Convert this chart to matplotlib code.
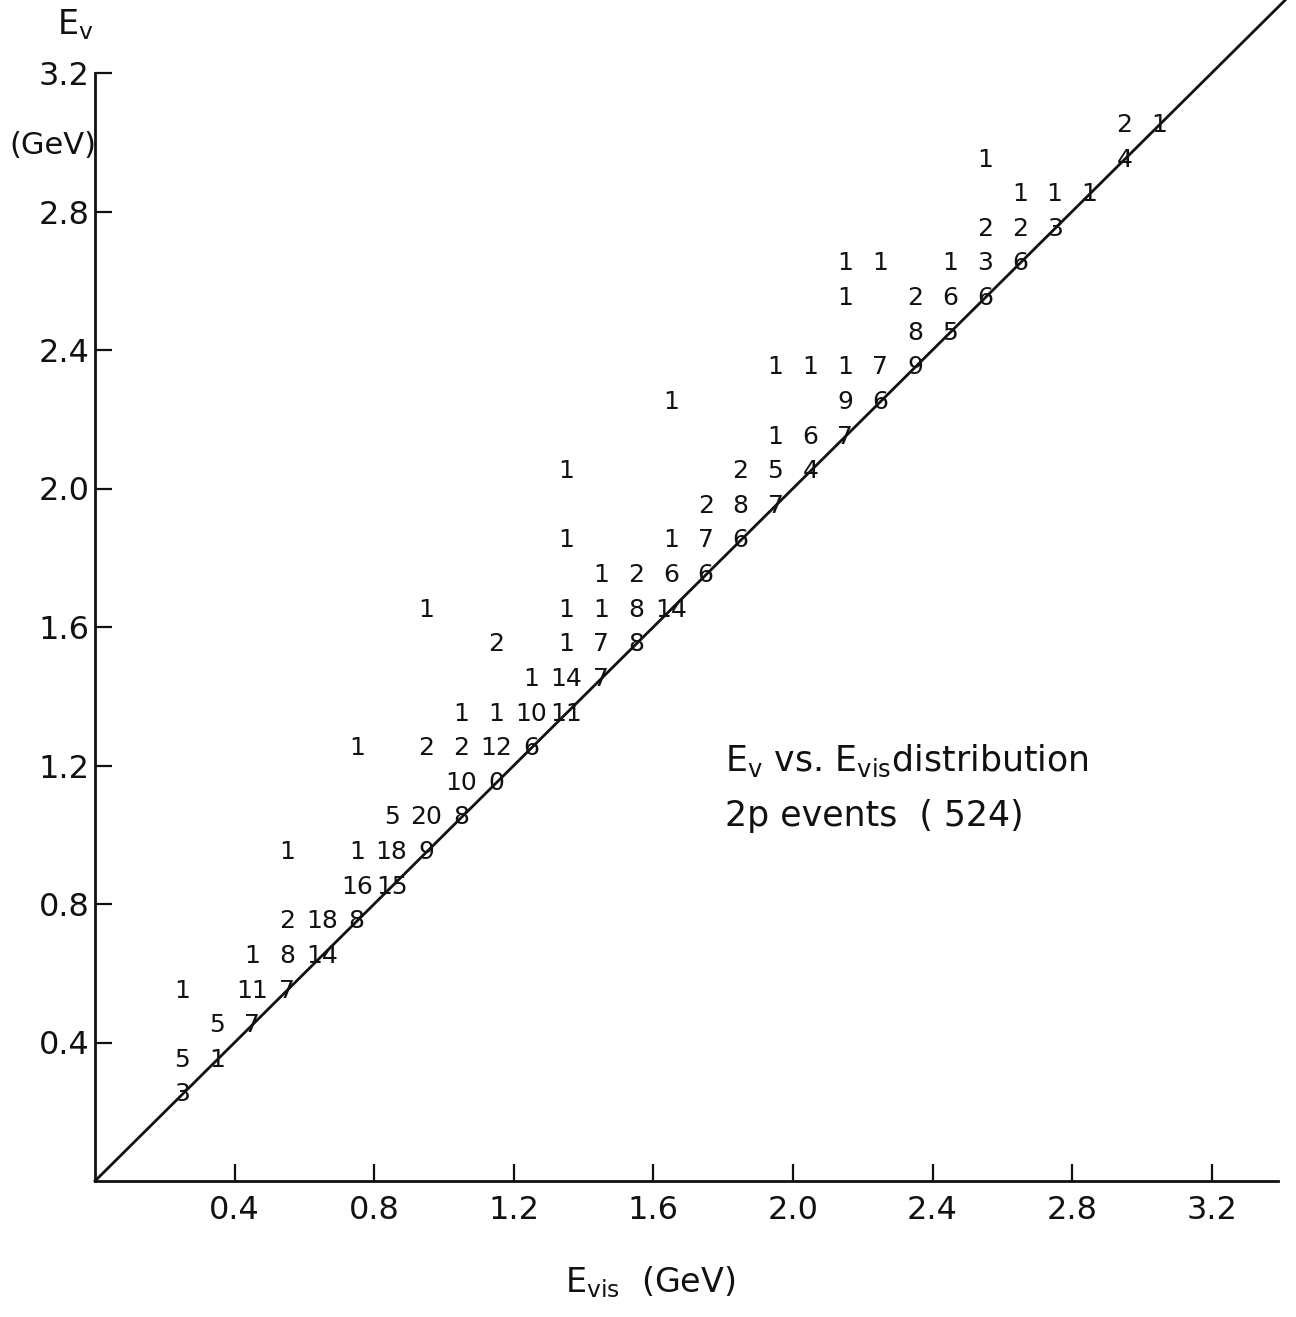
import matplotlib
matplotlib.use("Agg")
import matplotlib.pyplot as plt

# ---- data: bin centres (GeV) and event counts in each cell ----
evis = [0.25, 0.25, 0.25,
        0.35, 0.35,
        0.45, 0.45, 0.45,
        0.55, 0.55, 0.55, 0.55,
        0.65, 0.65,
        0.75, 0.75, 0.75, 0.75,
        0.85, 0.85, 0.85,
        0.95, 0.95, 0.95, 0.95,
        1.05, 1.05, 1.05, 1.05,
        1.15, 1.15, 1.15, 1.15,
        1.25, 1.25, 1.25,
        1.35, 1.35, 1.35, 1.35, 1.35, 1.35,
        1.45, 1.45, 1.45, 1.45,
        1.55, 1.55, 1.55,
        1.65, 1.65, 1.65, 1.65,
        1.75, 1.75, 1.75,
        1.85, 1.85, 1.85,
        1.95, 1.95, 1.95, 1.95,
        2.05, 2.05, 2.05,
        2.15, 2.15, 2.15, 2.15, 2.15,
        2.25, 2.25, 2.25,
        2.35, 2.35, 2.35,
        2.45, 2.45, 2.45,
        2.55, 2.55, 2.55, 2.55,
        2.65, 2.65, 2.65,
        2.75, 2.75,
        2.85,
        2.95, 2.95,
        3.05]
enu = [0.25, 0.35, 0.55,
       0.35, 0.45,
       0.45, 0.55, 0.65,
       0.55, 0.65, 0.75, 0.95,
       0.65, 0.75,
       0.75, 0.85, 0.95, 1.25,
       0.85, 0.95, 1.05,
       0.95, 1.05, 1.25, 1.65,
       1.05, 1.15, 1.25, 1.35,
       1.15, 1.25, 1.35, 1.55,
       1.25, 1.35, 1.45,
       1.35, 1.45, 1.55, 1.65, 1.85, 2.05,
       1.45, 1.55, 1.65, 1.75,
       1.55, 1.65, 1.75,
       1.65, 1.75, 1.85, 2.25,
       1.75, 1.85, 1.95,
       1.85, 1.95, 2.05,
       1.95, 2.05, 2.15, 2.35,
       2.05, 2.15, 2.35,
       2.15, 2.25, 2.35, 2.55, 2.65,
       2.25, 2.35, 2.65,
       2.35, 2.45, 2.55,
       2.45, 2.55, 2.65,
       2.55, 2.65, 2.75, 2.95,
       2.65, 2.75, 2.85,
       2.75, 2.85,
       2.85,
       2.95, 3.05,
       3.05]
counts = [3, 5, 1,
          1, 5,
          7, 11, 1,
          7, 8, 2, 1,
          14, 18,
          8, 16, 1, 1,
          15, 18, 5,
          9, 20, 2, 1,
          8, 10, 2, 1,
          0, 12, 1, 2,
          6, 10, 1,
          11, 14, 1, 1, 1, 1,
          7, 7, 1, 1,
          8, 8, 2,
          14, 6, 1, 1,
          6, 7, 2,
          6, 8, 2,
          7, 5, 1, 1,
          4, 6, 1,
          7, 9, 1, 1, 1,
          6, 7, 1,
          9, 8, 2,
          5, 6, 1,
          6, 3, 2, 1,
          6, 2, 1,
          3, 1,
          1,
          4, 2,
          1]

xticks = [0.4, 0.8, 1.2, 1.6, 2.0, 2.4, 2.8, 3.2]
yticks = [0.4, 0.8, 1.2, 1.6, 2.0, 2.4, 2.8, 3.2]
tick_labels = ["0.4", "0.8", "1.2", "1.6", "2.0", "2.4", "2.8", "3.2"]

plt.rcParams['font.family'] = ['DejaVu Sans']
plt.rcParams['mathtext.fontset'] = 'dejavusans'
INK = '#111111'

W, H = 1296, 1317
fig = plt.figure(figsize=(W / 100, H / 100), dpi=100)
ax = fig.add_axes([95 / W, 1 - 1181 / H, 1183 / W, (1181 - 73) / H])
ax.set_xlim(0, 3.39)
ax.set_ylim(0, 3.2)

for s in ['top', 'right']:
    ax.spines[s].set_visible(False)
for s in ['left', 'bottom']:
    ax.spines[s].set_linewidth(2.0)
    ax.spines[s].set_color(INK)

ax.set_xticks(xticks)
ax.set_xticklabels(tick_labels)
ax.set_yticks(yticks)
ax.set_yticklabels(tick_labels)
ax.tick_params(axis='both', direction='in', length=12, width=1.6, color=INK,
               labelsize=23, labelcolor=INK)
ax.tick_params(axis='x', pad=10)
ax.tick_params(axis='y', pad=4)

# diagonal E_nu = E_vis
ax.plot([0, 3.41], [0, 3.41], color=INK, lw=2.0, clip_on=False)

# counts in each cell
for x, y, c in zip(evis, enu, counts):
    ax.text(x, y, str(c), ha='center', va='center', fontsize=18, color=INK)

# axis titles
fig.text(75 / W, 1 - 25 / H, r'$\mathregular{E_v}$', ha='center', va='center',
         fontsize=24, color=INK)
fig.text(53 / W, 1 - 145 / H, '(GeV)', ha='center', va='center',
         fontsize=22, color=INK)
fig.text(650 / W, 1 - 1282 / H, r'$\mathregular{E_{vis}}$  (GeV)', ha='center',
         va='center', fontsize=24, color=INK)

# annotation
ax.text(1.805, 1.214, r'$\mathregular{E_v}$ vs. $\mathregular{E_{vis}}$distribution',
        ha='left', va='center', fontsize=25, color=INK)
ax.text(1.805, 1.055, '2p events  ( 524)', ha='left', va='center',
        fontsize=25, color=INK)

fig.savefig('out.png', dpi=100)
